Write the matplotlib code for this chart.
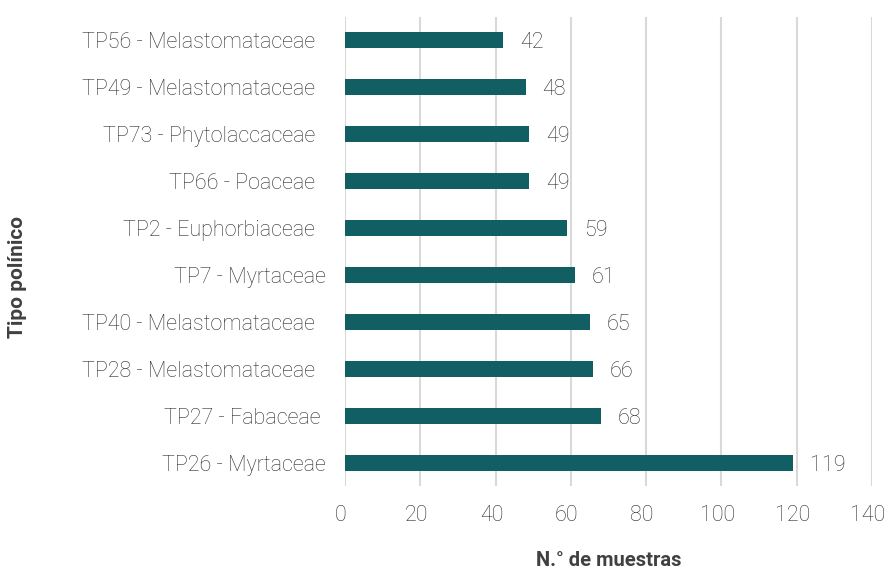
import matplotlib.pyplot as plt
from matplotlib.transforms import ScaledTranslation

# data (bottom to top as drawn)
tipos = [
    "TP26 - Myrtaceae",
    "TP27 - Fabaceae ",
    "TP28 - Melastomataceae  ",
    "TP40 - Melastomataceae  ",
    "TP7 - Myrtaceae",
    "TP2 - Euphorbiaceae  ",
    "TP66 - Poaceae  ",
    "TP73 - Phytolaccaceae  ",
    "TP49 - Melastomataceae  ",
    "TP56 - Melastomataceae  ",
]
muestras = [119, 68, 66, 65, 61, 59, 49, 49, 48, 42]
xticks = [0, 20, 40, 60, 80, 100, 120, 140]

plt.rcParams["font.family"] = ["Roboto", "DejaVu Sans"]

fig = plt.figure(figsize=(8.87, 5.69), dpi=100)
ax = fig.add_axes([0.389, 0.145, 0.594, 0.826])

pos = list(range(len(tipos)))
ax.barh(pos, muestras, height=0.32, color="#125f63", zorder=3)

for p, v in zip(pos, muestras):
    ax.annotate(str(v), (v, p), xytext=(12, -2), textcoords="offset points",
                ha="left", va="center", fontsize=15.5, color="#2e2e2e",
                fontweight="light")

ax.set_xlim(0, 140)
ax.set_ylim(-0.5, len(tipos) - 0.5)
ax.set_xticks(xticks)
ax.set_yticks(pos)
ax.set_yticklabels(tipos)
ax.grid(axis="x", color="#d9d9d9", linewidth=1.5, zorder=0)
ax.tick_params(axis="both", length=0, labelsize=15.5, labelcolor="#2e2e2e")
ax.tick_params(axis="y", pad=14)
ax.tick_params(axis="x", pad=13)
shift = ScaledTranslation(-4 / 100, 0, fig.dpi_scale_trans)
for lbl in ax.get_xticklabels():
    lbl.set_transform(lbl.get_transform() + shift)
for lbl in ax.get_xticklabels() + ax.get_yticklabels():
    lbl.set_fontweight("light")
for s in ax.spines.values():
    s.set_visible(False)

ax.set_xlabel("N.° de muestras", fontsize=14.5, fontweight="bold",
              color="#404040", labelpad=18)
fig.text(18 / 887, 1 - 277 / 569, "Tipo polínico", rotation=90,
         fontsize=15, fontweight="bold", color="#404040",
         ha="center", va="center")

fig.savefig("out.png", dpi=100)
